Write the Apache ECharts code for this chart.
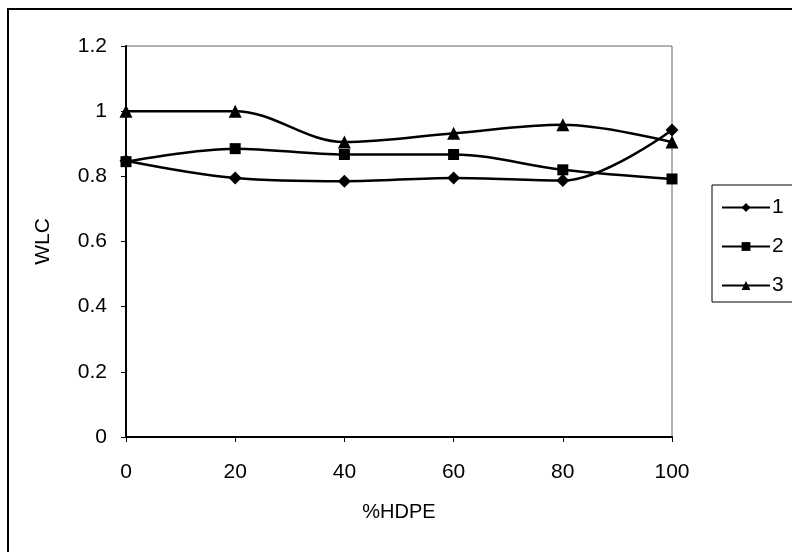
<!DOCTYPE html>
<html>
<head>
<meta charset="utf-8">
<script src="https://cdn.jsdelivr.net/npm/echarts@6/dist/echarts.min.js"></script>
<style>
  html, body { margin: 0; padding: 0; background: #fff; }
  #chart { width: 792px; height: 552px; }
</style>
</head>
<body>
<div id="chart"></div>
<script>
// %HDPE on the x axis
const hdpe = [0, 20, 40, 60, 80, 100]
const wlc1 = [0.848, 0.795, 0.785, 0.795, 0.787, 0.942]
const wlc2 = [0.845, 0.885, 0.867, 0.867, 0.82, 0.792]
const wlc3 = [1.0, 1.0, 0.905, 0.932, 0.958, 0.905]
const seriesNames = ['1', '2', '3']
const symbols = ['diamond', 'rect', 'triangle']

const chart = echarts.init(document.getElementById('chart'))

const makeSeries = (name, values, symbol) => ({
  name: name,
  type: 'line',
  smooth: 0.35,
  symbol: symbol,
  symbolSize: symbol === 'rect' ? 11 : 13,
  showSymbol: true,
  data: hdpe.map((x, i) => [x, values[i]]),
  lineStyle: { color: '#000', width: 2.5 },
  itemStyle: { color: '#000' },
  animation: false
})

chart.setOption({
  backgroundColor: '#fff',
  textStyle: { fontFamily: 'Liberation Sans, Arial, sans-serif', color: '#000' },
  graphic: [{
    type: 'rect',
    shape: { x: 8, y: 9, width: 900, height: 700 },
    style: { fill: 'none', stroke: '#000', lineWidth: 2 },
    silent: true
  }],
  legend: {
    orient: 'vertical',
    left: 712,
    top: 185,
    padding: [12, 10, 6, 9],
    itemGap: 18,
    itemWidth: 48,
    itemHeight: 11,
    borderColor: '#000',
    borderWidth: 1,
    data: seriesNames,
    textStyle: { fontSize: 21, color: '#000', padding: [0, 0, 0, -3] }
  },
  grid: {
    left: 126,
    right: 120,
    top: 46,
    bottom: 115,
    show: true,
    borderColor: '#666',
    borderWidth: 1
  },
  xAxis: {
    type: 'value',
    min: 0,
    max: 100,
    interval: 20,
    name: '%HDPE',
    nameLocation: 'middle',
    nameGap: 65,
    nameTextStyle: { fontSize: 20, color: '#000' },
    axisLine: { lineStyle: { color: '#000', width: 2 } },
    axisTick: { show: true, length: 5, lineStyle: { color: '#000' } },
    axisLabel: { fontSize: 21, color: '#000', margin: 25 },
    splitLine: { show: false }
  },
  yAxis: {
    type: 'value',
    min: 0,
    max: 1.2,
    interval: 0.2,
    name: 'WLC',
    nameLocation: 'middle',
    nameGap: 72,
    nameRotate: 90,
    nameTextStyle: { fontSize: 21, color: '#000' },
    axisLine: { show: true, lineStyle: { color: '#000', width: 2 } },
    axisTick: { show: true, length: 5, lineStyle: { color: '#000' } },
    axisLabel: { fontSize: 21, color: '#000', margin: 19 },
    splitLine: { show: false }
  },
  series: [
    makeSeries(seriesNames[0], wlc1, symbols[0]),
    makeSeries(seriesNames[1], wlc2, symbols[1]),
    makeSeries(seriesNames[2], wlc3, symbols[2])
  ]
})
</script>
</body>
</html>
